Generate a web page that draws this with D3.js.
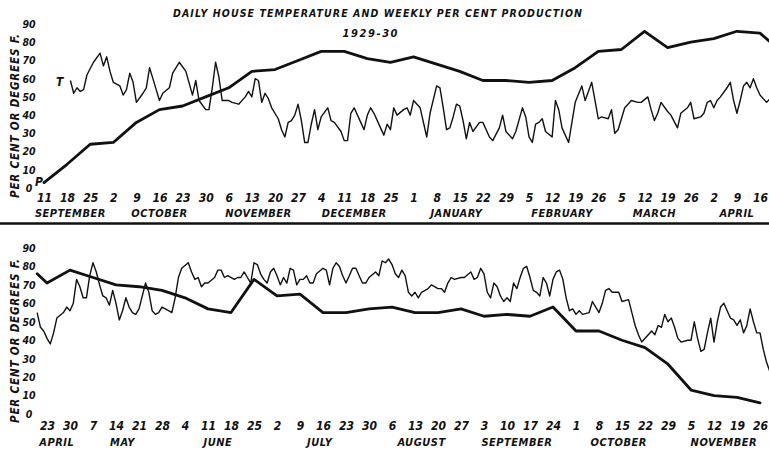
<!DOCTYPE html>
<html>
<head>
<meta charset="utf-8">
<script src="https://cdn.jsdelivr.net/npm/d3@7"></script>
<style>
    body { margin: 0; background: #fff; }
    svg text {
        font-family: "Liberation Sans Narrow", "DejaVu Sans Condensed", "DejaVu Sans", sans-serif;
        font-stretch: condensed;
        font-weight: bold;
        font-style: italic;
        fill: #111;
    }
</style>
</head>
<body>
<div id="chart"></div>
<script>
var parseDate = d3.timeParse("%Y-%m-%d");

var title = "DAILY HOUSE TEMPERATURE AND WEEKLY PER CENT PRODUCTION";
var subtitle = "1929-30";
var yTitle = "PER CENT OR DEGREES F.";
var yTicks = [0, 10, 20, 30, 40, 50, 60, 70, 80, 90];

// top panel, 1929-30
var topRange = ["1929-09-11", "1930-04-16"];
var topMonths = ["SEPTEMBER", "OCTOBER", "NOVEMBER", "DECEMBER", "JANUARY", "FEBRUARY", "MARCH", "APRIL"];
var topMonthDates = ["1929-09-19", "1929-10-16", "1929-11-15", "1929-12-14", "1930-01-14", "1930-02-15", "1930-03-15", "1930-04-09"];

// weekly per cent production, days after Sep 11 1929
var topPDays = [0, 7, 14, 21, 28, 35, 42, 49, 56, 63, 70, 77, 84, 91, 98, 105, 112, 119, 126, 133, 140, 147, 154, 161, 168, 175, 182, 189, 196, 203, 210, 217, 224];
var topPVals = [3, 13, 24, 25, 36, 43, 45, 50, 55, 64, 65, 70, 75, 75, 71, 69, 72, 68, 64, 59, 59, 58, 59, 66, 75, 76, 86, 77, 80, 82, 86, 85, 74];

// daily house temperature, days after Sep 11 1929
var topTDays = [8, 9, 10, 11, 12, 13, 15, 17, 18, 19, 20, 21, 23, 24, 25, 26, 27, 28, 30, 31, 32, 33, 34, 35, 36, 38, 39, 41, 43, 45,
    46, 47, 49, 50, 51, 52, 53, 54, 56, 57, 59, 61, 62, 63, 64, 65, 66, 67, 68, 69, 71, 72, 73, 74, 75, 76, 77, 78, 79, 80,
    81, 82, 83, 84, 86, 87, 88, 90, 91, 92, 93, 94, 96, 97, 98, 99, 100, 102, 103, 104, 105, 106, 107, 109, 110, 111, 112, 114, 116, 117,
    119, 120, 121, 122, 123, 124, 125, 126, 127, 128, 129, 130, 132, 133, 135, 136, 138, 139, 140, 142, 143, 145, 146, 147, 148, 149, 150, 151, 152, 154,
    155, 156, 157, 159, 160, 161, 163, 164, 165, 166, 168, 169, 171, 172, 173, 174, 176, 177, 178, 180, 181, 183, 184, 185, 186, 187, 189, 190, 192, 193,
    195, 196, 197, 199, 200, 201, 202, 203, 204, 205, 207, 208, 209, 210, 211, 212, 213, 214, 215, 216, 217, 219, 220];
var topTVals = [59, 52, 55, 53, 54, 62, 69, 74, 67, 72, 64, 58, 56, 51, 54, 63, 58, 47, 52, 55, 66, 60, 54, 48, 52, 55, 63, 69, 64, 51,
    59, 48, 43, 43, 55, 69, 61, 48, 48, 47, 46, 50, 53, 50, 60, 59, 47, 52, 49, 44, 38, 32, 28, 36, 37, 40, 46, 37, 25, 25,
    35, 43, 32, 39, 44, 37, 36, 31, 26, 26, 41, 44, 36, 32, 40, 44, 41, 33, 29, 35, 32, 44, 40, 43, 44, 40, 48, 44, 28, 41,
    56, 55, 44, 32, 33, 39, 46, 45, 37, 27, 36, 31, 36, 36, 28, 26, 33, 40, 31, 27, 31, 44, 39, 28, 25, 35, 36, 38, 31, 28,
    48, 43, 33, 25, 36, 47, 56, 48, 53, 58, 38, 39, 38, 43, 30, 32, 44, 46, 48, 47, 47, 50, 43, 37, 41, 47, 42, 40, 33, 41,
    44, 47, 38, 39, 41, 47, 48, 44, 48, 50, 55, 58, 48, 41, 48, 56, 58, 55, 60, 55, 51, 47, 49];

// bottom panel, 1930
var bottomRange = ["1930-04-23", "1930-11-26"];
var bottomMonths = ["APRIL", "MAY", "JUNE", "JULY", "AUGUST", "SEPTEMBER", "OCTOBER", "NOVEMBER"];
var bottomMonthDates = ["1930-04-26", "1930-05-16", "1930-06-14", "1930-07-15", "1930-08-15", "1930-09-13", "1930-10-14", "1930-11-15"];

// days after Apr 23 1930
var bottomPDays = [-3, 0, 7, 14, 21, 28, 35, 42, 49, 56, 63, 70, 77, 84, 91, 98, 105, 112, 119, 126, 133, 140, 147, 154, 161, 168, 175, 182, 189, 196, 203, 210, 217];
var bottomPVals = [76, 71, 78, 74, 70, 69, 67, 63, 57, 55, 73, 64, 65, 55, 55, 57, 58, 55, 55, 57, 53, 54, 53, 58, 45, 45, 40, 36, 27, 13, 10, 9, 6];

var bottomTDays = [-3, -2, -1, 0, 1, 2, 3, 5, 6, 7, 8, 9, 10, 11, 12, 13, 14, 15, 16, 17, 18, 19, 20, 21, 22, 23, 24, 25, 26, 27,
    28, 30, 31, 32, 33, 34, 35, 37, 38, 39, 40, 41, 43, 44, 45, 46, 47, 48, 49, 51, 52, 53, 54, 55, 57, 58, 59, 60, 61, 62,
    63, 64, 65, 66, 67, 68, 69, 70, 71, 72, 73, 74, 75, 76, 77, 78, 79, 80, 81, 82, 84, 85, 86, 87, 88, 89, 90, 91, 92, 93,
    94, 95, 96, 97, 98, 100, 101, 102, 103, 104, 105, 106, 107, 108, 109, 110, 111, 112, 113, 114, 116, 117, 119, 120, 121, 122, 123, 124, 126, 127,
    129, 130, 131, 132, 133, 134, 135, 136, 137, 138, 139, 140, 141, 142, 143, 144, 145, 146, 147, 148, 149, 150, 151, 152, 153, 154, 155, 156, 157, 158,
    159, 160, 161, 162, 163, 165, 166, 167, 168, 169, 170, 171, 172, 174, 175, 177, 178, 179, 180, 181, 183, 184, 185, 186, 187, 188, 189, 190, 191, 192,
    193, 195, 196, 197, 198, 199, 200, 201, 202, 203, 204, 205, 206, 207, 208, 209, 210, 211, 212, 213, 214, 215, 216, 217, 218, 219, 220];
var bottomTVals = [55, 47, 45, 41, 38, 44, 52, 55, 58, 56, 60, 73, 69, 63, 63, 75, 82, 77, 70, 64, 63, 59, 67, 60, 51, 56, 63, 58, 55, 54,
    57, 71, 66, 56, 54, 55, 58, 56, 55, 63, 74, 79, 82, 77, 73, 74, 69, 71, 71, 74, 78, 78, 74, 75, 73, 74, 74, 77, 74, 71,
    82, 81, 76, 73, 71, 77, 79, 75, 70, 74, 71, 79, 78, 70, 73, 73, 75, 71, 71, 76, 79, 78, 70, 79, 82, 80, 75, 71, 75, 79,
    79, 75, 71, 71, 74, 77, 75, 83, 82, 84, 81, 76, 74, 78, 75, 66, 64, 66, 63, 66, 68, 70, 68, 68, 66, 71, 74, 73, 74, 74,
    77, 73, 74, 79, 76, 66, 63, 71, 69, 64, 61, 63, 61, 71, 68, 74, 79, 80, 74, 67, 66, 64, 74, 71, 64, 73, 77, 78, 73, 63,
    56, 57, 54, 56, 54, 55, 61, 58, 55, 60, 67, 68, 66, 66, 61, 62, 55, 48, 43, 39, 43, 45, 43, 48, 47, 54, 50, 52, 47, 41,
    39, 40, 40, 50, 41, 34, 35, 44, 52, 39, 50, 58, 60, 56, 52, 51, 48, 51, 44, 48, 57, 50, 44, 44, 35, 28, 23];

function series(start, days, vals) {
    return days.map(function (d, i) {
        return {date: d3.timeDay.offset(start, d), value: vals[i]};
    });
}

var width = 769, height = 449;

var svg = d3.select("#chart").append("svg")
    .attr("width", width)
    .attr("height", height);

function drawPanel(p) {
    var start = parseDate(p.range[0]),
        end = parseDate(p.range[1]);

    var x = d3.scaleTime().domain([start, end]).range([p.left, p.right]);
    var y = d3.scaleLinear().domain([0, 90]).range([p.bottom, p.top]);

    var g = svg.append("g");

    var line = d3.line()
        .x(function (d) { return x(d.date); })
        .y(function (d) { return y(d.value); });

    g.append("path")
        .datum(series(start, p.tDays, p.tVals))
        .attr("fill", "none")
        .attr("stroke", "#111")
        .attr("stroke-width", 1.4)
        .attr("stroke-linejoin", "round")
        .attr("d", line);

    g.append("path")
        .datum(series(start, p.pDays, p.pVals))
        .attr("fill", "none")
        .attr("stroke", "#111")
        .attr("stroke-width", 2.8)
        .attr("stroke-linejoin", "round")
        .attr("stroke-linecap", "round")
        .attr("d", line);

    // week ticks fall on wednesdays
    var xAxis = d3.axisBottom(x)
        .tickValues(d3.timeWednesday.range(start, d3.timeDay.offset(end, 1)))
        .tickFormat(d3.timeFormat("%-d"))
        .tickSize(0);

    var gx = g.append("g")
        .attr("transform", "translate(0," + p.tickY + ")")
        .call(xAxis);
    gx.select(".domain").remove();
    gx.selectAll("text")
        .attr("y", 0)
        .attr("dy", null)
        .attr("fill", null)
        .style("font-size", "12px");

    g.selectAll(".month")
        .data(p.months)
        .enter().append("text")
        .attr("class", "month")
        .attr("x", function (d, i) { return x(parseDate(p.monthDates[i])); })
        .attr("y", p.monthY)
        .attr("text-anchor", "middle")
        .style("font-size", "11px")
        .style("letter-spacing", "0.5px")
        .text(function (d) { return d; });

    var yAxis = d3.axisLeft(y).tickValues(yTicks).tickSize(0).tickPadding(0);
    var gy = g.append("g")
        .attr("transform", "translate(29,0)")
        .call(yAxis);
    gy.select(".domain").remove();
    gy.selectAll("text")
        .attr("x", 0)
        .attr("text-anchor", "middle")
        .attr("fill", null)
        .style("font-size", "10.5px");

    g.append("text")
        .attr("transform", "translate(19," + ((p.top + p.bottom) / 2 + 10) + ") rotate(-90)")
        .attr("text-anchor", "middle")
        .attr("textLength", 164)
        .attr("lengthAdjust", "spacing")
        .style("font-size", "11.5px")
        .text(yTitle);

    return {x: x, y: y, g: g, start: start};
}

svg.append("text")
    .attr("x", 173)
    .attr("y", 17)
    .attr("textLength", 409)
    .attr("lengthAdjust", "spacing")
    .style("font-size", "10.5px")
    .text(title);

svg.append("text")
    .attr("x", 370)
    .attr("y", 37)
    .attr("text-anchor", "middle")
    .attr("textLength", 55)
    .attr("lengthAdjust", "spacing")
    .style("font-size", "11px")
    .text(subtitle);

var topPanel = drawPanel({
    range: topRange, left: 44, right: 760, top: 24, bottom: 188,
    tickY: 202, monthY: 217, months: topMonths, monthDates: topMonthDates,
    pDays: topPDays, pVals: topPVals, tDays: topTDays, tVals: topTVals
});

drawPanel({
    range: bottomRange, left: 47, right: 760, top: 248, bottom: 414,
    tickY: 430, monthY: 446, months: bottomMonths, monthDates: bottomMonthDates,
    pDays: bottomPDays, pVals: bottomPVals, tDays: bottomTDays, tVals: bottomTVals
});

// series labels next to the start of each line in the top panel
topPanel.g.append("text")
    .attr("x", topPanel.x(d3.timeDay.offset(topPanel.start, topTDays[0])) - 7)
    .attr("y", topPanel.y(topTVals[0]) + 6)
    .attr("text-anchor", "end")
    .style("font-size", "12px")
    .text("T");

topPanel.g.append("text")
    .attr("x", topPanel.x(topPanel.start) - 1)
    .attr("y", topPanel.y(topPVals[0]) + 3)
    .attr("text-anchor", "end")
    .style("font-size", "12px")
    .text("P");

// rule between the two panels
svg.append("line")
    .attr("x1", 0)
    .attr("x2", width)
    .attr("y1", 223.5)
    .attr("y2", 223.5)
    .attr("stroke", "#111")
    .attr("stroke-width", 2.5);
</script>
</body>
</html>
